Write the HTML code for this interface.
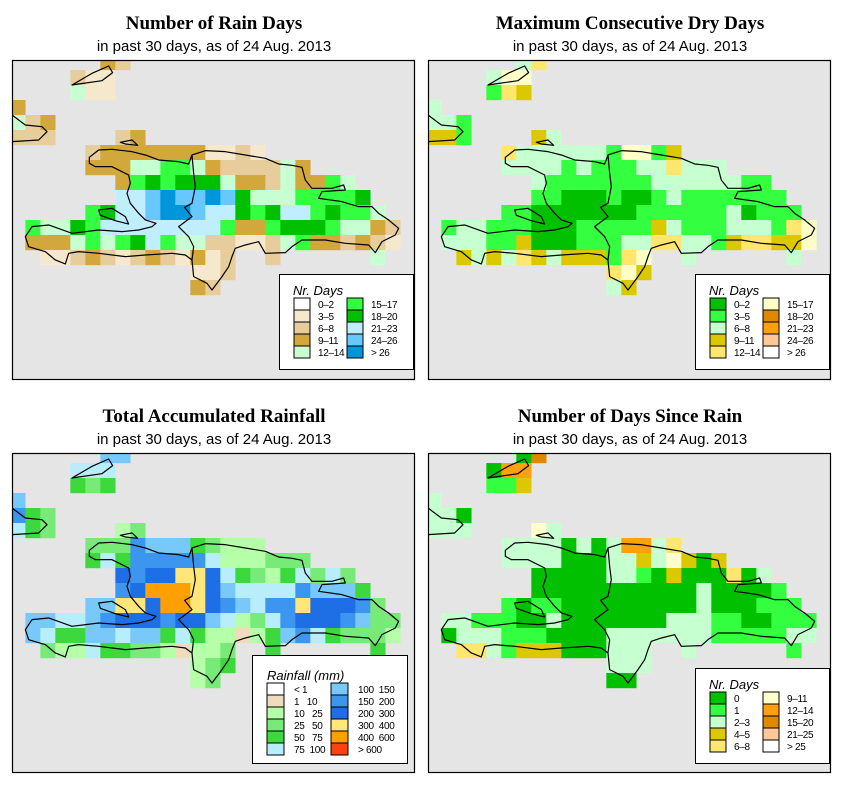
<!DOCTYPE html>
<html><head><meta charset="utf-8"><style>
body{margin:0;background:#fff;}
svg{display:block;}
.t1{font-family:"Liberation Serif",serif;font-weight:bold;font-size:19px;text-anchor:middle;}
.t2{font-family:"Liberation Sans",sans-serif;font-size:15px;text-anchor:middle;}
.lt{font-family:"Liberation Sans",sans-serif;font-style:italic;font-size:13px;}
.ll{font-family:"Liberation Sans",sans-serif;font-size:10px;letter-spacing:-0.3px;}
</style></head><body>
<svg id="chart" width="853" height="793" viewBox="0 0 853 793">
<defs><clipPath id="mc"><rect x="0" y="0" width="403" height="320"/></clipPath></defs>
</svg>
<script>
const NS='http://www.w3.org/2000/svg';
const svg=document.getElementById('chart');
// ---- data: grid category codes per row (26 columns) ----
const rainDaysRows=[
"......dt..................","....tcc...................","....pcc...................","d.........................",
"ptd.......................","ttt....td.................",".....tdddddddcctc.........",".....dddppggpdttttpd......",
".......dgGgGGGpddtpddgp...",".......llmbmmbmGpppggggG..",".....gGllmbbmllGgGllgGggp.",".gppGgllllllllgddgGGGgppdt",
".dddpgpgGlgppttcctpgddtdtc","..cctdtctdtcdct..t......p.","............cct...........","............dt............"];
const dryDaysRows=[
"......py..................","....pcc...................","....gyo...................","p.........................",
"ppg.......................","oog....op.................",".....yppppppgccgo.........",".....ppppgpgggppyppp......",
".......pgggggggppppppgg...",".......ggGGGgGGgpggggggg..",".....ggGGGGGGGggggggpGggg.",".gppgggGGGgggggopgggpppgyc",
".pppggoGGGgggppyyppgoyyooc","..opopyopooogyc..p......p.","............yco...........","............po............"];
const rainfallRows=[
"......SS..................","....CCC...................","....GLG...................","S.........................",
"BGL.......................","CGL....PL.................",".....LLLBSSSGLPPP.........",".....GCGBBBBBCPPPLLL......",
".......DBDDYYDCGLPGCLCL...",".......BDOOOYDSCCCCBSSSG..",".....SSYYDOOYDBSCBBYDDDBL.",".SSCCSBDDDBDDSCPLCBDDDBSLL",
".SCGGSSCSSGCGPPtPGSBCGLLLP","..LPPCGGLLPtPPL..G......G.","............PLG...........","............PL............"];
const sinceRainRows=[
"......GA..................","....Gaa...................","....ggo...................","p.........................",
"ppG.......................","ppp....cp.................",".....ppppGpGpaapy.........",".....ppppGGGppopcoGo......",
".......GGGGGppgGoGGGyGp...",".......GGGGGGGGGGGpGGGGg..",".....gGggGGGGGGGGGpGGGggg.",".ppgggGGpGGGGGGGpppggGGggg",
".GpppgggGGGGpppppppgggggpp","..yypgoooGGGppp..p......g.","............ppp...........","............GG............"];
// legend categories
const rainDaysCodes=['w','c','t','d','p','g','G','l','m','b'];
const rainDaysLabels=['0–2','3–5','6–8','9–11','12–14','15–17','18–20','21–23','24–26','> 26'];
const dryDaysCodes=['G','g','p','o','y','c','A','a','e','w'];
const dryDaysLabels=['0–2','3–5','6–8','9–11','12–14','15–17','18–20','21–23','24–26','> 26'];
const rainfallCodes=['w','t','P','L','G','C','S','B','D','Y','O','R'];
const rainfallLabels=['< 1','1   10','10   25','25   50','50   75','75  100','100  150','150  200','200  300','300  400','400  600','> 600'];
const sinceRainCodes=['G','g','p','o','y','c','a','A','e','w'];
const sinceRainLabels=['0','1','2–3','4–5','6–8','9–11','12–14','15–20','21–25','> 25'];

const palRain={w:'#ffffff',c:'#f6e8cc',t:'#e6cd9b',d:'#d2a83c',p:'#c8ffd2',g:'#33ff40',G:'#00c000',l:'#bfefff',m:'#66c8ff',b:'#0096dc'};
const palDry={G:'#00c000',g:'#33ff40',p:'#c6ffd0',o:'#dcc800',y:'#ffe66e',c:'#ffffc8',A:'#e08800',a:'#ffa010',e:'#ffc898',w:'#ffffff'};
const palFall={w:'#ffffff',t:'#eedcbc',P:'#b4ffa8',L:'#78ea78',G:'#3cd83c',C:'#b8eefa',S:'#78c8fa',B:'#3c96f0',D:'#1e6ee6',Y:'#ffe678',O:'#ffa000',R:'#ff4010'};
const palSince={G:'#00c000',g:'#33ff40',p:'#c6ffd0',o:'#dcc800',y:'#ffe66e',c:'#ffffcc',a:'#ffa010',A:'#e08800',e:'#ffc898',w:'#ffffff'};

const coast="M232,292 L260,270 L300,268 L360,275 L400,285 L440,300 L500,305 L530,312 L540,285 L580,272 L640,275 L700,285 L760,295 L800,312 L840,316 L870,322 L880,360 L900,385 L960,385 L995,375 L1000,390 L930,395 L920,415 L990,425 L1040,440 L1080,440 L1100,460 L1130,480 L1160,505 L1150,525 L1110,545 L1090,578 L1070,555 L1000,550 L940,540 L870,540 L840,560 L820,578 L760,580 L740,545 L700,555 L670,565 L660,590 L650,620 L630,650 L600,690 L585,670 L545,650 L540,600 L520,585 L480,580 L400,585 L340,590 L260,580 L200,575 L170,580 L160,612 L130,600 L100,575 L50,560 L40,530 L60,500 L110,495 L180,520 L260,510 L330,515 L380,510 L420,500 L432,490 L400,480 L380,460 L355,430 L345,400 L355,370 L350,345 L300,320 L250,320 L232,310 Z "+
"M540,285 L545,340 L550,380 L540,430 L518,442 L540,470 L500,500 L530,530 L545,560 L540,600 "+
"M260,450 L300,445 L340,470 L350,492 L310,482 L265,466 Z "+
"M325,247 L360,240 L377,256 L340,252 Z "+
"M180,75 L240,40 L290,18 L302,38 L270,62 L200,72 Z "+
"M0,165 L40,195 L90,200 L105,215 L80,240 L0,245";

function el(tag,attrs,parent){const e=document.createElementNS(NS,tag);for(const k in attrs)e.setAttribute(k,attrs[k]);(parent||svg).appendChild(e);return e;}
function colX(c){return -1.67+15*c;}
function rowY(r){return -5+15*r;}

function panel(px,py,rows,pal,title,name,leg){
  const t=el('text',{x:px+202,y:py-31,'class':'t1'});t.textContent=title;
  
  
  const s=el('text',{x:px+202,y:py-9,'class':'t2'});s.textContent='in past 30 days, as of  24 Aug. 2013';
  
  
  const g=el('g',{transform:'translate('+px+','+py+')'});
  
  
  el('rect',{x:0,y:0,width:403,height:320,fill:'#e5e5e5'},g);
  const cg=el('g',{'clip-path':'url(#mc)'},g);
  rows.forEach((row,r)=>{for(let c=0;c<row.length;c++){const k=row[c];if(k==='.')continue;
    const rc=el('rect',{x:colX(c),y:rowY(r),width:15.2,height:15.2,fill:pal[k]},cg);
    
    }});
  const p=el('path',{d:coast,fill:'none',stroke:'#000','stroke-width':3.6,'stroke-linejoin':'round',transform:'scale(0.3333)'},cg);
  
  
  el('rect',{x:0.5,y:0.5,width:402,height:319,fill:'none',stroke:'#000','stroke-width':1.2},g);
  // legend
  const lg=el('g',{transform:'translate('+(px+leg.x)+','+(py+leg.y)+')'});
  
  
  el('rect',{x:0.5,y:0.5,width:leg.w,height:leg.h,fill:'#fff',stroke:'#000','stroke-width':1},lg);
  const lt=el('text',{x:leg.tx,y:leg.ty,'class':'lt'},lg);lt.textContent=leg.title;
  if(leg.tsize)lt.setAttribute('font-size',leg.tsize);
  const n=leg.codes.length/2;
  leg.codes.forEach((k,i)=>{const col=Math.floor(i/n),r=i%n;
    const sx=leg.sx[col],sy=leg.sy+r*12;
    const sw=el('rect',{x:sx,y:sy,width:leg.sw,height:12,fill:pal[k],stroke:'#000','stroke-width':1},lg);
    
    
    const tx=el('text',{x:sx+leg.sw+(leg.lo||8),y:sy+10,'class':'ll'},lg);
    tx.setAttribute('style','white-space:pre');
    tx.textContent=leg.labels[i];
    
    });
}
const legDays={x:267,y:214,w:134,h:95,tx:14,ty:21,sx:[15,68],sy:24,sw:16,title:'Nr. Days'};
panel(12,60,rainDaysRows,palRain,'Number of Rain Days','rain-days',Object.assign({},legDays,{codes:rainDaysCodes,labels:rainDaysLabels}));
panel(428,60,dryDaysRows,palDry,'Maximum Consecutive Dry Days','dry-days',Object.assign({},legDays,{codes:dryDaysCodes,labels:dryDaysLabels}));
panel(12,453,rainfallRows,palFall,'Total Accumulated Rainfall','rainfall',{x:240,y:202,w:155,h:108,tx:15,ty:25,tsize:14,sx:[15,79],sy:28,sw:17,lo:10,title:'Rainfall (mm)',codes:rainfallCodes,labels:rainfallLabels});
panel(428,453,sinceRainRows,palSince,'Number of Days Since Rain','since-rain',Object.assign({},legDays,{y:215,codes:sinceRainCodes,labels:sinceRainLabels}));
</script>
</body></html>
